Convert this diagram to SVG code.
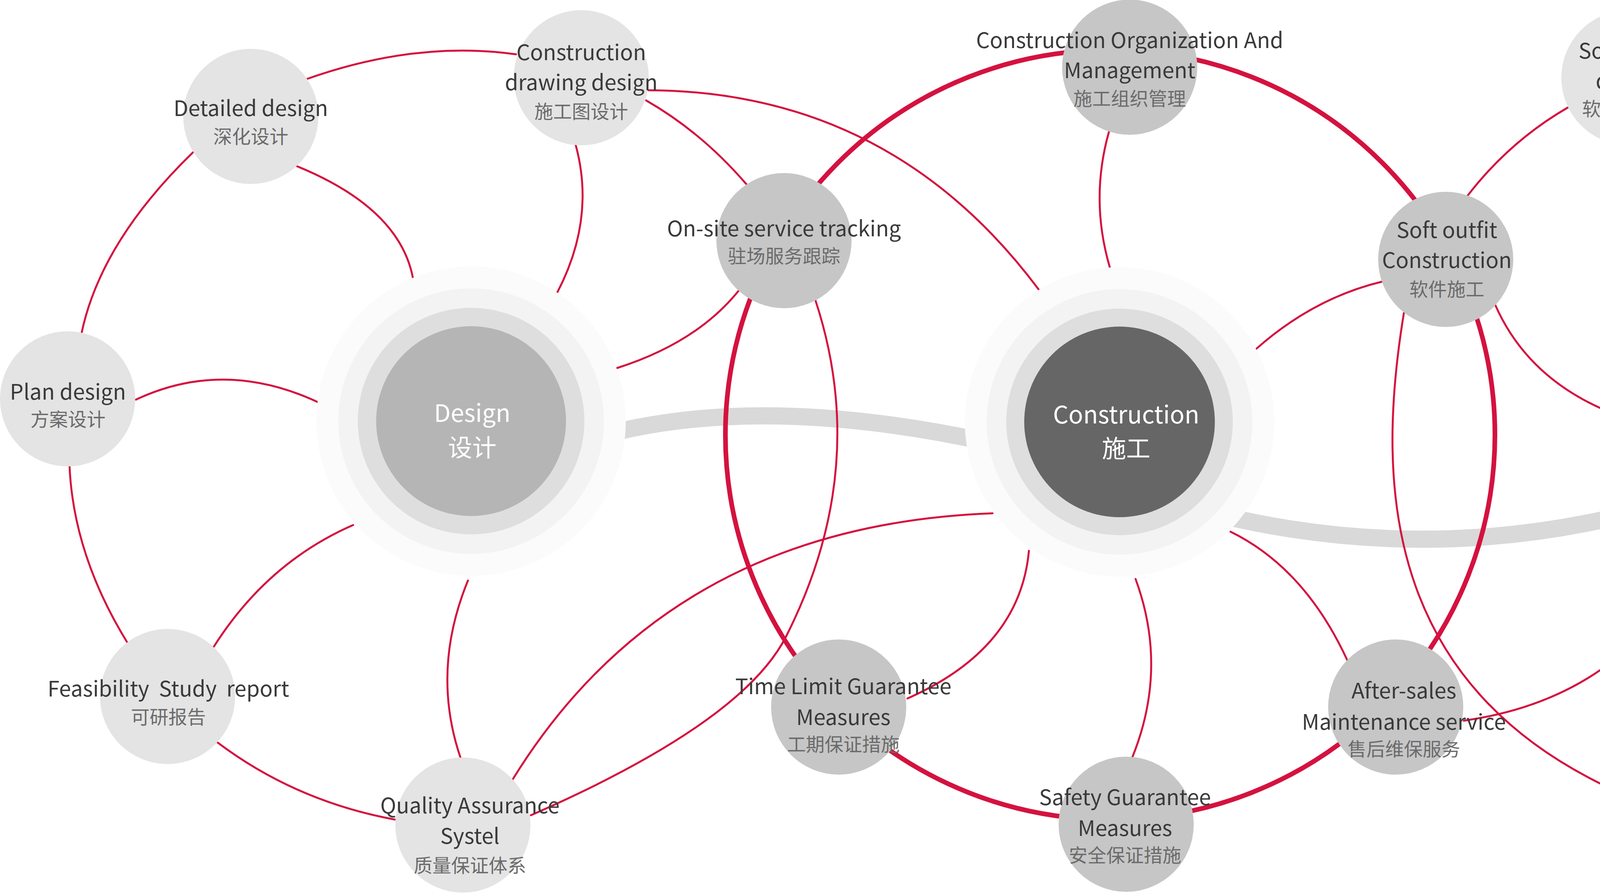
<svg xmlns="http://www.w3.org/2000/svg" width="5796" height="2286" viewBox="0 0 5796 2286">
<style>
.band{fill:none;stroke:#d9d9d9;stroke-width:44}
.c{fill:none;stroke:#d4123f;stroke-width:5;stroke-linecap:round}
.ct{fill:none;stroke:#d4123f;stroke-width:12}
.r4{fill:#fbfbfb}.r3{fill:#f3f3f3}.r2{fill:#dedede}.r1{fill:#b5b5b5}.r1d{fill:#666666}
.nl{fill:#e4e4e4}.nd{fill:#c6c6c6}
text{font-family:"Noto Sans CJK SC","Noto Sans",sans-serif;text-anchor:middle}
.en{font-size:55px;fill:#3a3a3a}
.zh{font-size:48px;fill:#6b6b6b}
.zhd{font-size:48px;fill:#3a3a3a}
.hub{font-size:62px;fill:#ffffff}
</style>
<rect width="5796" height="2286" fill="#ffffff"/>
<g id="bands">
<path class="band" d="M1560,1110 Q1960,1010 2520,1130"/>
<path class="band" d="M3130,1320 Q3680,1450 4230,1300"/>
</g>
<g id="connectors">
<circle class="ct" cx="2842" cy="1113" r="985"/>
<path class="c" d="M786,202 Q1066,103 1321,139"/>
<path class="c" d="M759,425 Q1022,532 1057,711"/>
<path class="c" d="M494,390 Q258,619 209,852"/>
<path class="c" d="M1474,372 Q1525,560 1427,748"/>
<path class="c" d="M1660,231 Q2280,234 2659,741"/>
<path class="c" d="M1654,257 Q1797,339 1912,473"/>
<path class="c" d="M1891,744 Q1784,877 1580,942"/>
<path class="c" d="M348,1023 Q574,917 815,1030"/>
<path class="c" d="M178,1193 Q188,1421 326,1645"/>
<path class="c" d="M547,1656 Q684,1440 904,1344"/>
<path class="c" d="M556,1900 Q756,2051 1011,2098"/>
<path class="c" d="M1198,1486 Q1103,1717 1179,1940"/>
<path class="c" d="M1312,1996 Q1713,1345 2541,1314"/>
<path class="c" d="M2087,767 Q2230,1200 2012,1630 Q1900,1850 1359,2087"/>
<path class="c" d="M2839,337 Q2790,510 2841,684"/>
<path class="c" d="M3538,721 Q3363,763 3216,893"/>
<path class="c" d="M3757,501 Q3864,362 4014,275"/>
<path class="c" d="M3594,801 C3520,1250 3540,1800 4219,2059"/>
<path class="c" d="M3828,781 Q3915,978 4141,1063"/>
<path class="c" d="M2634,1410 Q2611,1661 2323,1788"/>
<path class="c" d="M2907,1482 Q2991,1710 2899,1938"/>
<path class="c" d="M3150,1361 Q3340,1454 3449,1690"/>
<path class="c" d="M3747,1845 Q4145,1788 4322,1459"/>
<path class="c" d="M4337,149 Q4630,92 4962,227"/>
<path class="c" d="M4151,372 Q4103,609 4343,770"/>
<path class="c" d="M4981,438 Q4768,537 4723,768"/>
<path class="c" d="M5245,430 Q5373,583 5469,803"/>
<path class="c" d="M5351,973 Q5180,901 4928,1045"/>
<path class="c" d="M5523,1138 Q5529,1458 5299,1745"/>
<path class="c" d="M4845,1372 Q5107,1466 5180,1716"/>
<path class="c" d="M4549,1520 Q4614,1733 4462,1953"/>
<path class="c" d="M4564,2108 Q4795,2119 5046,1966"/>
</g>
<g id="hub-design">
<circle class="r4" cx="1206" cy="1078" r="396"/>
<circle class="r3" cx="1206" cy="1078" r="340"/>
<circle class="r2" cx="1206" cy="1078" r="290"/>
<circle class="r1" cx="1206" cy="1078" r="243"/>
<text class="hub" x="1209" y="1080">Design</text>
<text class="hub" x="1209" y="1169">设计</text>
</g>
<g id="hub-construction">
<circle class="r4" cx="2866" cy="1080" r="396"/>
<circle class="r3" cx="2866" cy="1080" r="340"/>
<circle class="r2" cx="2866" cy="1080" r="290"/>
<circle class="r1d" cx="2866" cy="1080" r="244"/>
<text class="hub" x="2883" y="1084">Construction</text>
<text class="hub" x="2883" y="1171">施工</text>
</g>
<g id="hub-soft">
<circle class="r4" cx="4534" cy="1117" r="396"/>
<circle class="r3" cx="4534" cy="1117" r="340"/>
<circle class="r2" cx="4534" cy="1117" r="290"/>
<circle class="r1" cx="4534" cy="1117" r="244"/>
<text class="hub" x="4536" y="1122">Soft outfit</text>
<text class="hub" x="4536" y="1211">软装</text>
</g>
<g id="n-detailed">
<circle class="nl" cx="642" cy="298" r="173"/>
<text class="en" x="642" y="297">Detailed design</text>
<text class="zh" x="642" y="367">深化设计</text>
</g>
<g id="n-drawing">
<circle class="nl" cx="1488" cy="199" r="173"/>
<text class="en" x="1488" y="154">Construction</text>
<text class="en" x="1488" y="231">drawing design</text>
<text class="zh" x="1488" y="303">施工图设计</text>
</g>
<g id="n-plan">
<circle class="nl" cx="173" cy="1021" r="173"/>
<text class="en" x="174" y="1023">Plan design</text>
<text class="zh" x="174" y="1091">方案设计</text>
</g>
<g id="n-feasibility">
<circle class="nl" cx="429" cy="1783" r="173"/>
<text class="en" x="431" y="1783">Feasibility&#160; Study&#160; report</text>
<text class="zh" x="431" y="1853">可研报告</text>
</g>
<g id="n-quality">
<circle class="nl" cx="1185" cy="2112" r="173"/>
<text class="en" x="1203" y="2082">Quality Assurance</text>
<text class="en" x="1203" y="2160">Systel</text>
<text class="zh" x="1203" y="2233">质量保证体系</text>
</g>
<g id="n-onsite">
<circle class="nd" cx="2007" cy="616" r="173"/>
<text class="en" x="2007" y="605">On-site service tracking</text>
<text class="zh" x="2007" y="673">驻场服务跟踪</text>
</g>
<g id="n-organization">
<circle class="nd" cx="2892" cy="172" r="173"/>
<text class="en" x="2892" y="123">Construction Organization And</text>
<text class="en" x="2892" y="200">Management</text>
<text class="zh" x="2892" y="270">施工组织管理</text>
</g>
<g id="n-softconstruction">
<circle class="nd" cx="3701" cy="664" r="173"/>
<text class="en" x="3704" y="609">Soft outfit</text>
<text class="en" x="3704" y="686">Construction</text>
<text class="zh" x="3704" y="758">软件施工</text>
</g>
<g id="n-timelimit">
<circle class="nd" cx="2147" cy="1810" r="173"/>
<text class="en" x="2159" y="1777">Time Limit Guarantee</text>
<text class="en" x="2159" y="1856">Measures</text>
<text class="zh" x="2159" y="1923">工期保证措施</text>
</g>
<g id="n-safety">
<circle class="nd" cx="2883" cy="2110" r="173"/>
<text class="en" x="2880" y="2061">Safety Guarantee</text>
<text class="en" x="2880" y="2140">Measures</text>
<text class="zh" x="2880" y="2207">安全保证措施</text>
</g>
<g id="n-aftersales">
<circle class="nd" cx="3573" cy="1810" r="173"/>
<text class="en" x="3594" y="1788">After-sales</text>
<text class="en" x="3594" y="1868">Maintenance service</text>
<text class="zh" x="3594" y="1935">售后维保服务</text>
</g>
<g id="n-softdesign">
<circle class="nl" cx="4170" cy="199" r="173"/>
<text class="en" x="4170" y="150">Soft outfit</text>
<text class="en" x="4170" y="227">design</text>
<text class="zh" x="4170" y="296">软装饰设计</text>
</g>
<g id="n-exterior">
<circle class="nl" cx="5109" cy="319" r="173"/>
<text class="en" x="5108" y="264">Exterior</text>
<text class="en" x="5108" y="341">Decoration Design</text>
<text class="zh" x="5108" y="417">景观软装设计</text>
</g>
<g id="n-sign">
<circle class="nl" cx="5526" cy="966" r="173"/>
<text class="en" x="5525" y="953">Sign Systems Design</text>
<text class="zh" x="5525" y="1025">导视系统设计</text>
</g>
<g id="n-graphic">
<circle class="nl" cx="5202" cy="1888" r="173"/>
<text class="en" x="5203" y="1894">Graphic Design</text>
<text class="zh" x="5203" y="1965">平面视觉设计</text>
</g>
<g id="n-visual">
<circle class="nl" cx="4391" cy="2110" r="173"/>
<text class="en" x="4389" y="2095">Visual Kinetic Design</text>
<text class="zhd" x="4389" y="2169">视觉动效设计</text>
</g>
</svg>
